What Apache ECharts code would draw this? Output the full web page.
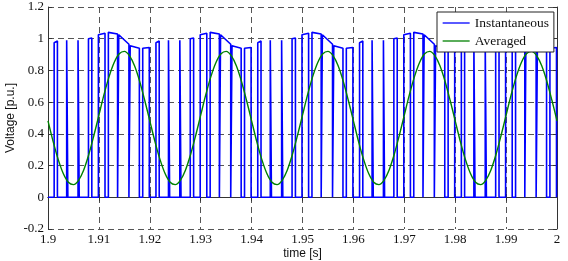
<!DOCTYPE html>
<html>
<head>
<meta charset="utf-8">
<script src="https://cdn.jsdelivr.net/npm/echarts@6/dist/echarts.min.js"></script>
<style>
  html, body { margin: 0; padding: 0; background: #fff; }
  #chart { width: 568px; height: 261px; }
</style>
</head>
<body>
<div id="chart"></div>
<script>
  // switching edges of the PWM voltage (s)
  const riseTimes = [
    1.90121, 1.90367, 1.90590, 1.90795, 1.90990, 1.91186, 1.91390, 1.91615, 1.91861,
    1.92121, 1.92367, 1.92590, 1.92795, 1.92990, 1.93186, 1.93390, 1.93615, 1.93861,
    1.94121, 1.94367, 1.94590, 1.94795, 1.94990, 1.95186, 1.95390, 1.95615, 1.95861,
    1.96121, 1.96367, 1.96590, 1.96795, 1.96990, 1.97186, 1.97390, 1.97615, 1.97861,
    1.98121, 1.98367, 1.98590, 1.98795, 1.98990, 1.99186, 1.99390, 1.99615, 1.99861
  ]
  const fallTimes = [
    1.90185, 1.90390, 1.90613, 1.90861, 1.91120, 1.91367, 1.91590, 1.91795, 1.91990,
    1.92185, 1.92390, 1.92613, 1.92861, 1.93120, 1.93367, 1.93590, 1.93795, 1.93990,
    1.94185, 1.94390, 1.94613, 1.94861, 1.95120, 1.95367, 1.95590, 1.95795, 1.95990,
    1.96185, 1.96390, 1.96613, 1.96861, 1.97120, 1.97367, 1.97590, 1.97795, 1.97990,
    1.98185, 1.98390, 1.98613, 1.98861, 1.99120, 1.99367, 1.99590, 1.99795, 1.99990
  ]
  // pulse top level at the rising / falling edge (p.u.)
  const topAtRise = [
    0.975, 0.99, 0.99, 1.0, 1.025, 1.04, 1.025, 0.955, 0.94,
    0.975, 0.99, 0.99, 1.0, 1.025, 1.04, 1.025, 0.955, 0.94,
    0.975, 0.99, 0.99, 1.0, 1.025, 1.04, 1.025, 0.955, 0.94,
    0.975, 0.99, 0.99, 1.0, 1.025, 1.04, 1.025, 0.955, 0.94,
    0.975, 0.99, 0.99, 1.0, 1.025, 1.04, 1.025, 0.955, 0.94
  ]
  const topAtFall = [
    0.985, 0.99, 0.99, 1.005, 1.035, 1.03, 0.965, 0.94, 0.945,
    0.985, 0.99, 0.99, 1.005, 1.035, 1.03, 0.965, 0.94, 0.945,
    0.985, 0.99, 0.99, 1.005, 1.035, 1.03, 0.965, 0.94, 0.945,
    0.985, 0.99, 0.99, 1.005, 1.035, 1.03, 0.965, 0.94, 0.945,
    0.985, 0.99, 0.99, 1.005, 1.035, 1.03, 0.965, 0.94, 0.945
  ]

  // averaged voltage, sampled every 1 ms from 1.900 s
  const avgStart = 1.9
  const avgStep = 0.001
  const avgValues = [
    0.482, 0.353, 0.239, 0.150, 0.095, 0.080, 0.107, 0.171, 0.268, 0.388,
    0.518, 0.647, 0.761, 0.850, 0.905, 0.920, 0.893, 0.829, 0.732, 0.612,
    0.482, 0.353, 0.239, 0.150, 0.095, 0.080, 0.107, 0.171, 0.268, 0.388,
    0.518, 0.647, 0.761, 0.850, 0.905, 0.920, 0.893, 0.829, 0.732, 0.612,
    0.482, 0.353, 0.239, 0.150, 0.095, 0.080, 0.107, 0.171, 0.268, 0.388,
    0.518, 0.647, 0.761, 0.850, 0.905, 0.920, 0.893, 0.829, 0.732, 0.612,
    0.482, 0.353, 0.239, 0.150, 0.095, 0.080, 0.107, 0.171, 0.268, 0.388,
    0.518, 0.647, 0.761, 0.850, 0.905, 0.920, 0.893, 0.829, 0.732, 0.612,
    0.482, 0.353, 0.239, 0.150, 0.095, 0.080, 0.107, 0.171, 0.268, 0.388,
    0.518, 0.647, 0.761, 0.850, 0.905, 0.920, 0.893, 0.829, 0.732, 0.612,
    0.482
  ]

  const seriesNames = ['Instantaneous', 'Averaged']

  const pwmData = [[1.9, 0]]
  riseTimes.forEach((r, i) => {
    pwmData.push([r, 0], [r, topAtRise[i]], [fallTimes[i], topAtFall[i]], [fallTimes[i], 0])
  })
  pwmData.push([2.0, 0])

  const avgData = avgValues.map((v, i) => [+(avgStart + i * avgStep).toFixed(3), v])

  const serif = 'Liberation Serif, Times New Roman, serif'
  const sans = 'Liberation Sans, Arial, sans-serif'
  const boxLine = { lineStyle: { color: '#333', width: 1 } }
  const gridLine = { show: true, lineStyle: { color: '#555', width: 1, type: [6, 4] } }

  const chart = echarts.init(document.getElementById('chart'))
  chart.setOption({
    animation: false,
    grid: { left: 48, right: 11, top: 7, bottom: 32, outerBoundsMode: 'none' },
    legend: {
      data: seriesNames,
      orient: 'vertical',
      left: 437,
      top: 12,
      padding: [4, 5, 4, 5],
      itemGap: 4,
      itemWidth: 27,
      itemHeight: 14,
      backgroundColor: '#fff',
      borderColor: '#222',
      borderWidth: 1,
      itemStyle: { color: 'transparent', borderWidth: 0, opacity: 0 },
      lineStyle: { width: 1.3 },
      textStyle: { fontFamily: serif, fontSize: 13.5, color: '#111' }
    },
    xAxis: [
      {
        type: 'value',
        min: 1.9,
        max: 2.0,
        interval: 0.01,
        name: 'time [s]',
        nameLocation: 'middle',
        nameGap: 19,
        nameMoveOverlap: false,
        nameTextStyle: { fontFamily: sans, fontSize: 12, color: '#111' },
        axisLine: boxLine,
        axisTick: { inside: true, length: 4, lineStyle: { color: '#333' } },
        axisLabel: { fontFamily: serif, fontSize: 13, color: '#111', margin: 4 },
        splitLine: gridLine
      },
      {
        type: 'value',
        position: 'top',
        min: 1.9,
        max: 2.0,
        interval: 0.01,
        axisLine: boxLine,
        axisTick: { inside: true, length: 4, lineStyle: { color: '#333' } },
        axisLabel: { show: false },
        splitLine: { show: false }
      }
    ],
    yAxis: [
      {
        type: 'value',
        min: -0.2,
        max: 1.2,
        interval: 0.2,
        name: 'Voltage [p.u.]',
        nameLocation: 'middle',
        nameGap: 31,
        nameMoveOverlap: false,
        nameTextStyle: { fontFamily: sans, fontSize: 12, color: '#111' },
        axisLine: { show: true, ...boxLine },
        axisTick: { show: true, inside: true, length: 4, lineStyle: { color: '#333' } },
        axisLabel: { fontFamily: serif, fontSize: 13, color: '#111', margin: 4 },
        splitLine: gridLine
      },
      {
        type: 'value',
        position: 'right',
        min: -0.2,
        max: 1.2,
        interval: 0.2,
        axisLine: { show: true, ...boxLine },
        axisTick: { show: true, inside: true, length: 4, lineStyle: { color: '#333' } },
        axisLabel: { show: false },
        splitLine: { show: false }
      }
    ],
    series: [
      {
        name: seriesNames[0],
        type: 'line',
        data: pwmData,
        symbol: 'none',
        lineStyle: { color: '#0000ff', width: 1.6 },
        itemStyle: { color: '#0000ff' }
      },
      {
        name: seriesNames[1],
        type: 'line',
        data: avgData,
        symbol: 'none',
        smooth: 0.3,
        lineStyle: { color: '#008000', width: 1.4 },
        itemStyle: { color: '#008000' }
      }
    ]
  })
</script>
</body>
</html>
